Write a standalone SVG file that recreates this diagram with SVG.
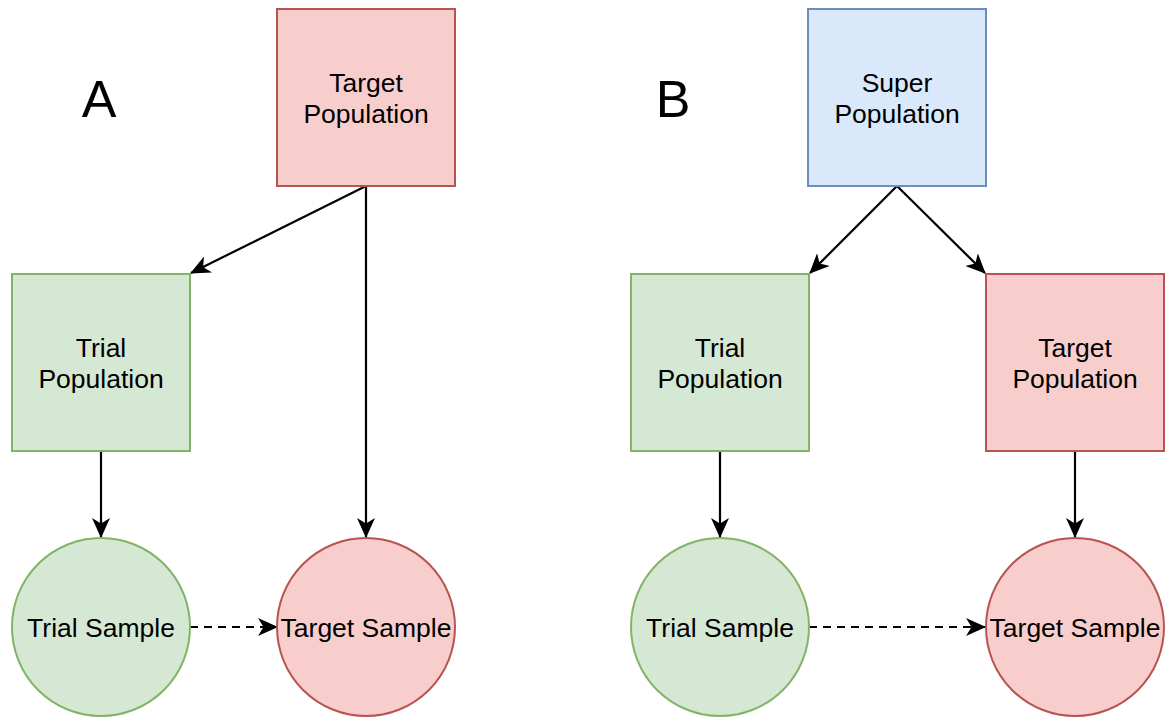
<svg xmlns="http://www.w3.org/2000/svg" width="1168" height="719" viewBox="0 0 1168 719">
<style>
.red{fill:#f8cecc;stroke:#b85450;stroke-width:2}
.green{fill:#d5e8d4;stroke:#82b366;stroke-width:2}
.blue{fill:#dae8fc;stroke:#6c8ebf;stroke-width:2}
.lbl{font-family:"Liberation Sans",Arial,sans-serif;font-size:26.5px;fill:#000;text-anchor:middle}
.big{font-family:"Liberation Sans",Arial,sans-serif;font-size:52px;fill:#000;text-anchor:middle}
.edge{stroke:#000;stroke-width:2.2;fill:none;marker-end:url(#arr)}
.dash{stroke-dasharray:8 6}
</style>
<defs>
<marker id="arr" markerUnits="userSpaceOnUse" viewBox="0 0 20 18" markerWidth="20" markerHeight="18" refX="19" refY="9" orient="auto">
<path d="M0,0 L20,9 L0,18 L5.5,9 Z" fill="#000"/>
</marker>
</defs>
<rect width="1168" height="719" fill="#fff"/>
<text class="big" x="99" y="117">A</text>
<text class="big" x="673" y="117">B</text>
<g id="connectors">
<line class="edge" x1="366" y1="186" x2="191" y2="273"/>
<line class="edge" x1="366" y1="186" x2="366" y2="537"/>
<line class="edge" x1="101" y1="451" x2="101" y2="537"/>
<line class="edge dash" x1="190" y1="627" x2="277" y2="627"/>
<line class="edge" x1="897" y1="186" x2="810" y2="273"/>
<line class="edge" x1="897" y1="186" x2="985" y2="273"/>
<line class="edge" x1="720" y1="451" x2="720" y2="537"/>
<line class="edge" x1="1075" y1="451" x2="1075" y2="537"/>
<line class="edge dash" x1="809" y1="627" x2="985" y2="627"/>
</g>
<g id="a-target-pop">
<rect class="red" x="277" y="9" width="178" height="177"/>
<text class="lbl" x="366" y="92">Target</text>
<text class="lbl" x="366" y="123">Population</text>
</g>
<g id="a-trial-pop">
<rect class="green" x="12" y="274" width="178" height="177"/>
<text class="lbl" x="101" y="357">Trial</text>
<text class="lbl" x="101" y="388">Population</text>
</g>
<g id="a-trial-sample">
<circle class="green" cx="101" cy="627" r="89"/>
<text class="lbl" x="101" y="637">Trial Sample</text>
</g>
<g id="a-target-sample">
<circle class="red" cx="366" cy="627" r="89"/>
<text class="lbl" x="366" y="637">Target Sample</text>
</g>
<g id="b-super-pop">
<rect class="blue" x="808" y="9" width="178" height="177"/>
<text class="lbl" x="897" y="92">Super</text>
<text class="lbl" x="897" y="123">Population</text>
</g>
<g id="b-trial-pop">
<rect class="green" x="631" y="274" width="178" height="177"/>
<text class="lbl" x="720" y="357">Trial</text>
<text class="lbl" x="720" y="388">Population</text>
</g>
<g id="b-target-pop">
<rect class="red" x="986" y="274" width="178" height="177"/>
<text class="lbl" x="1075" y="357">Target</text>
<text class="lbl" x="1075" y="388">Population</text>
</g>
<g id="b-trial-sample">
<circle class="green" cx="720" cy="627" r="89"/>
<text class="lbl" x="720" y="637">Trial Sample</text>
</g>
<g id="b-target-sample">
<circle class="red" cx="1075" cy="627" r="89"/>
<text class="lbl" x="1075" y="637">Target Sample</text>
</g>
</svg>
